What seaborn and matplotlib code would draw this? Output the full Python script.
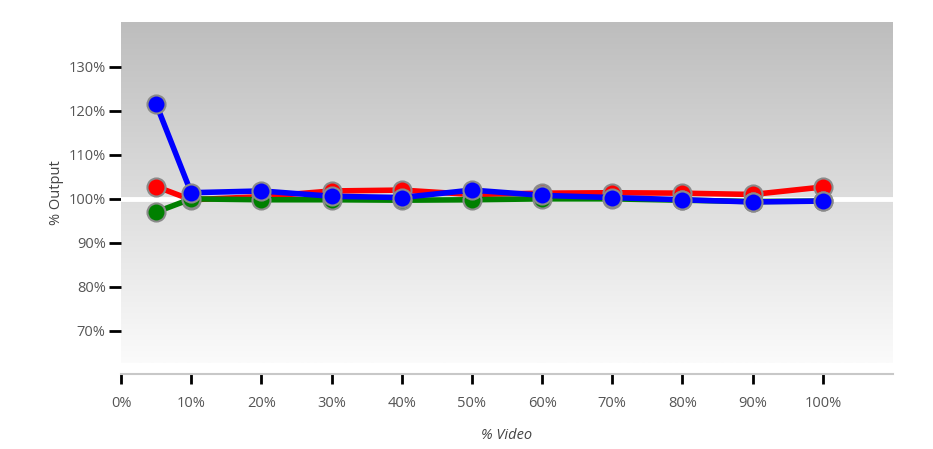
import numpy as np
import pandas as pd
import seaborn as sns
import matplotlib.pyplot as plt
from matplotlib.colors import LinearSegmentedColormap

# data
video_pct = [5, 10, 20, 30, 40, 50, 60, 70, 80, 90, 100]
red_vals = [102.8, 99.8, 100.5, 101.8, 102.0, 101.0, 101.3, 101.4, 101.3, 101.0, 102.7]
green_vals = [97.0, 100.0, 99.8, 99.8, 99.7, 99.8, 100.0, 100.0, 99.7, 99.4, 99.5]
blue_vals = [121.6, 101.4, 101.8, 100.6, 100.3, 102.0, 100.8, 100.3, 99.8, 99.3, 99.5]
series_names = ['red', 'green', 'blue']
series_colors = ['#ff0000', '#008000', '#0000ff']
x_ticks = list(range(0, 101, 10))
y_ticks = list(range(70, 131, 10))

df = pd.DataFrame({
    'video': video_pct * 3,
    'output': red_vals + green_vals + blue_vals,
    'series': ['red'] * 11 + ['green'] * 11 + ['blue'] * 11,
})

sns.set_style('white')
plt.rcParams['font.family'] = ['Open Sans', 'DejaVu Sans']

fig = plt.figure(figsize=(9.33, 4.49), dpi=100)
ax = fig.add_axes([121 / 933, 1 - 363 / 449, (893 - 121) / 933, (363 - 22) / 449])

# gradient background
cmap = LinearSegmentedColormap.from_list('bg', ['#fbfbfb', '#bdbdbd'])
grad = np.linspace(0, 1, 256).reshape(-1, 1)
ax.imshow(grad, cmap=cmap, aspect='auto', origin='lower', extent=[0, 1, 0, 1],
          transform=ax.transAxes, zorder=0)

ax.axhline(100, color='white', lw=3.5, zorder=1)

sns.lineplot(data=df, x='video', y='output', hue='series', hue_order=series_names,
             palette=series_colors, marker='o', markersize=13, markeredgecolor='#8a8a8a',
             markeredgewidth=1.5, lw=4, legend=False, ax=ax, zorder=3)

ax.set_xlim(0, 110)
ax.set_ylim(62.7, 140.2)
ax.set_xticks(x_ticks)
ax.set_xticklabels([f'{v}%' for v in x_ticks])
ax.set_yticks(y_ticks)
ax.set_yticklabels([f'{v}%' for v in y_ticks])

for s in ['top', 'right', 'left']:
    ax.spines[s].set_visible(False)
ax.spines['bottom'].set_position(('outward', 8))
ax.spines['bottom'].set_color('#c8c8c8')
ax.spines['bottom'].set_linewidth(1.5)

ax.tick_params(axis='y', left=True, length=9, width=2, color='black', pad=2,
               labelsize=10.5, labelcolor='#555555')
ax.tick_params(axis='x', bottom=True, direction='out', length=7, width=2, color='black',
               pad=9, labelsize=10.5, labelcolor='#555555')

ax.set_ylabel('% Output', fontsize=10.5, color='#444444', labelpad=3)
ax.set_xlabel('% Video', fontsize=10.5, color='#444444', style='italic', labelpad=12)

fig.savefig('out.png', dpi=100)
